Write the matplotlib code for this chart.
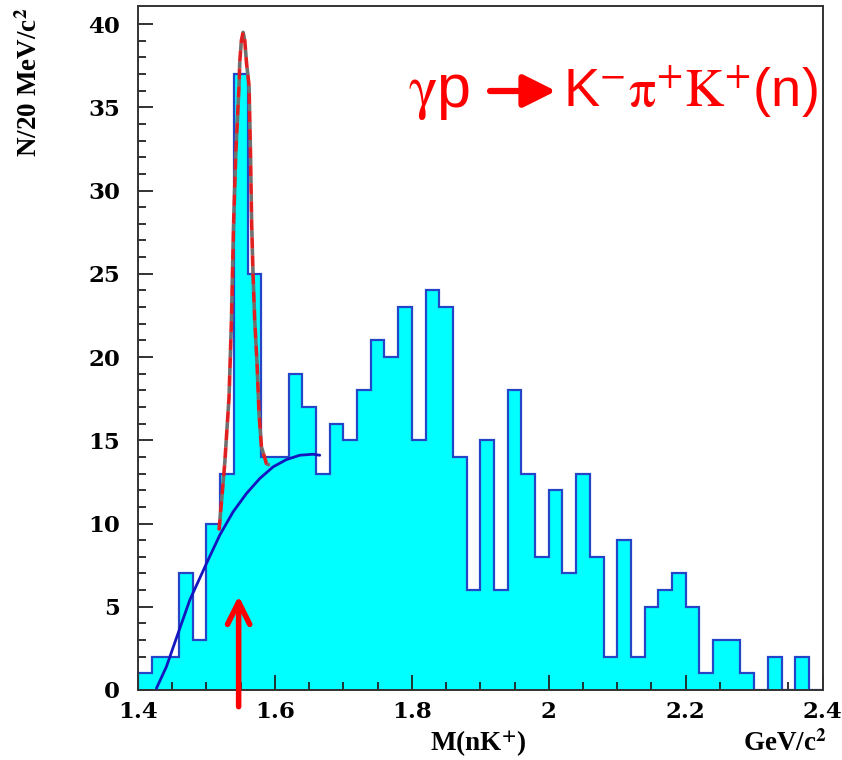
import matplotlib
matplotlib.use("Agg")
import matplotlib.pyplot as plt
import numpy as np

# ---------------- data ----------------
bin_lo, bin_hi, n_bins = 1.40, 2.40, 50
counts = [1, 2, 2, 7, 3, 10, 13, 37, 25, 14,
          14, 19, 17, 13, 16, 15, 18, 21, 20, 23,
          15, 24, 23, 14, 6, 15, 6, 18, 13, 8,
          12, 7, 13, 8, 2, 9, 2, 5, 6, 7,
          5, 1, 3, 3, 1, 0, 2, 0, 2, 0]

# background fit
bg_x = [1.4269, 1.4415, 1.4585, 1.4756, 1.5000, 1.5194, 1.5389, 1.5584,
        1.5778, 1.5973, 1.6168, 1.6363, 1.6557, 1.6655]
bg_y = [0.1, 1.4, 3.4, 5.4, 7.6, 9.3, 10.7, 11.8,
        12.7, 13.4, 13.84, 14.1, 14.16, 14.1]

# peak + background fit
pk_x = [1.5184, 1.5267, 1.5330, 1.5365, 1.5395, 1.5428, 1.5476, 1.5486,
        1.5510, 1.5535, 1.5560, 1.5584, 1.5622, 1.5643, 1.5660, 1.5680,
        1.5705, 1.5739, 1.5768, 1.5803, 1.5876, 1.5920]
pk_y = [9.6, 13.6, 17.6, 22.2, 27.8, 32.2, 36.3, 37.7,
        39.0, 39.5, 39.0, 37.7, 36.3, 32.2, 28.0, 25.0,
        22.2, 19.6, 16.6, 14.6, 13.6, 13.5]

arrow_x = 1.547
arrow_y0, arrow_y1 = -1.0, 5.65

xticks = [1.4, 1.6, 1.8, 2.0, 2.2, 2.4]
xticklabels = ["1.4", "1.6", "1.8", "2", "2.2", "2.4"]
yticks = [0, 5, 10, 15, 20, 25, 30, 35, 40]
yticklabels = ["0", "5", "10", "15", "20", "25", "30", "35", "40"]

# ---------------- figure ----------------
plt.rcParams["mathtext.fontset"] = "stix"
W, H = 842, 760
fig = plt.figure(figsize=(W / 100, H / 100), dpi=100)
ax = fig.add_axes([138 / W, (H - 690) / H, (822.6 - 138) / W, (690 - 5.7) / H])

edges = np.linspace(bin_lo, bin_hi, n_bins + 1)
ax.stairs(counts, edges, fill=True, facecolor="#00ffff", edgecolor="none",
          baseline=0, zorder=1)
ax.stairs(counts, edges, color="#2545c8", lw=1.6, baseline=0, zorder=2)

ax.plot(bg_x, bg_y, color="#1515c0", lw=2.0, zorder=3, solid_capstyle="round")
ax.plot(pk_x, pk_y, color="#ff3030", lw=1.0, zorder=4)
ax.plot(pk_x, pk_y, color="#e02020", lw=2.6, ls=(0, (3, 2)), gapcolor="#707070",
        zorder=5)

ax.annotate("", xy=(arrow_x, arrow_y1), xytext=(arrow_x, arrow_y0),
            arrowprops=dict(arrowstyle="->,head_length=1.6,head_width=0.8",
                            color="#ff0000", lw=4, shrinkA=0, shrinkB=0),
            annotation_clip=False, zorder=6)

ax.set_xlim(bin_lo, bin_hi)
ax.set_ylim(0, 41.1)

tick_font = dict(family="DejaVu Serif", weight="bold", size=16.5)
ax.set_xticks(xticks)
ax.set_xticklabels(xticklabels, fontdict=tick_font)
ax.set_yticks(yticks)
ax.set_yticklabels(yticklabels, fontdict=tick_font)
ax.set_xticks(np.arange(1.40, 2.4001, 0.05), minor=True)
ax.set_yticks(np.arange(0, 41, 1), minor=True)
ax.tick_params(which="both", direction="in", top=False, right=False,
               color="#222222", width=1.3)
ax.tick_params(which="major", length=11)
ax.tick_params(which="minor", length=5.5)
ax.tick_params(axis="x", which="major", pad=8)
ax.tick_params(axis="y", which="major", pad=13)
for s in ax.spines.values():
    s.set_color("#333333")
    s.set_linewidth(1.4)

lab_font = dict(family="Liberation Serif", weight="bold", size=19.5)
fig.text(30 / W, 1 - 8 / H, r"N/20 MeV/c$^{\mathbf{2}}$", rotation=90,
         ha="center", va="top", **lab_font)
fig.text(478 / W, 1 - 744 / H, r"M(nK$^{\mathbf{+}}$)", ha="center",
         va="center", **lab_font)
fig.text(785 / W, 1 - 744 / H, r"GeV/c$^{\mathbf{2}}$", ha="center",
         va="center", **lab_font)

# reaction label, built from pieces
red = "#ff0000"
fig.text(408 / W, 1 - 107 / H, r"$\mathrm{\gamma}$p", ha="left", va="baseline",
         color=red, family="Liberation Sans", size=44)
fig.patches.append(matplotlib.patches.FancyArrowPatch(
    (490 / W, 1 - 91 / H), (556 / W, 1 - 91 / H), transform=fig.transFigure,
    arrowstyle="-|>,head_length=0.9,head_width=0.45", mutation_scale=22,
    color=red, lw=4.5, shrinkA=0, shrinkB=0))
fig.text(563 / W, 1 - 107 / H,
         r"K$^{-}\mathrm{\pi}^{+}\mathrm{K}^{+}$(n)",
         ha="left", va="baseline", color=red, family="Liberation Sans", size=39)

fig.savefig("out.png", dpi=100)
